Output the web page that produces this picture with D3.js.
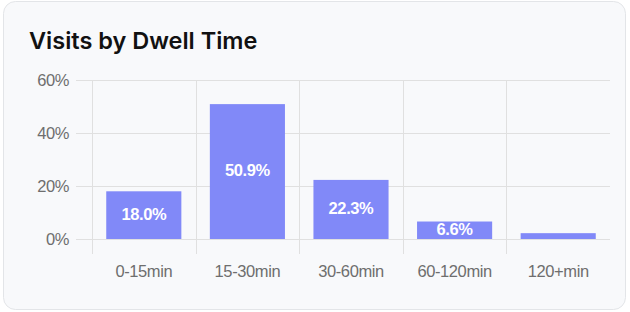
<!DOCTYPE html>
<html>
<head>
<meta charset="utf-8">
<script src="https://cdn.jsdelivr.net/npm/d3@7"></script>
<style>
  body { margin: 0; background: #fff; }
  svg { display: block; }
</style>
</head>
<body>
<svg id="chart" width="630" height="312"></svg>
<script>
// chart data
var categories = ['0-15min', '15-30min', '30-60min', '60-120min', '120+min'];
var values = [18.0, 50.9, 22.3, 6.6, 2.2];
var showLabel = [true, true, true, true, false];
var yTicks = [0, 20, 40, 60];

var svg = d3.select('#chart');

// card background
svg.append('rect')
    .attr('x', 3.5).attr('y', 1.5)
    .attr('width', 622).attr('height', 308)
    .attr('rx', 12)
    .attr('fill', '#f8f9fb')
    .attr('stroke', '#e3e5e8');

svg.append('text')
    .attr('x', 29).attr('y', 49)
    .attr('font-family', 'Inter, sans-serif')
    .attr('font-size', 23.5)
    .attr('font-weight', 600)
    .attr('fill', '#111')
    .text('Visits by Dwell Time');

var plot = { l: 92, r: 610, t: 80, b: 239 };

var x = d3.scaleBand()
    .domain(categories)
    .range([plot.l, plot.r])
    .paddingInner(0).paddingOuter(0);

var y = d3.scaleLinear()
    .domain([0, 60])
    .range([plot.b, plot.t]);

var grid = svg.append('g');
// horizontal grid lines
grid.selectAll('.hline')
    .data(yTicks)
    .enter().append('line')
    .attr('x1', 76).attr('x2', plot.r)
    .attr('y1', d => Math.round(y(d)) + 0.5)
    .attr('y2', d => Math.round(y(d)) + 0.5)
    .attr('stroke', '#e0e0e0')
    .attr('stroke-width', 1);

// vertical grid lines at band boundaries
grid.selectAll('.vline')
    .data(categories)
    .enter().append('line')
    .attr('x1', d => Math.round(x(d)) + 0.5)
    .attr('x2', d => Math.round(x(d)) + 0.5)
    .attr('y1', plot.t).attr('y2', 254)
    .attr('stroke', '#e0e0e0')
    .attr('stroke-width', 1);

// y tick labels
svg.selectAll('.ylab')
    .data(yTicks)
    .enter().append('text')
    .attr('x', 69)
    .attr('y', d => y(d))
    .attr('dy', '0.35em')
    .attr('text-anchor', 'end')
    .attr('font-family', 'Liberation Sans, Arial, sans-serif')
    .attr('font-size', 16.5)
    .attr('letter-spacing', -0.4)
    .attr('fill', '#6e6e6e')
    .text(d => d + '%');

// x tick labels
svg.selectAll('.xlab')
    .data(categories)
    .enter().append('text')
    .attr('x', d => x(d) + x.bandwidth() / 2)
    .attr('y', 271)
    .attr('dy', '0.35em')
    .attr('text-anchor', 'middle')
    .attr('font-family', 'Liberation Sans, Arial, sans-serif')
    .attr('font-size', 16.5)
    .attr('letter-spacing', -0.4)
    .attr('fill', '#6e6e6e')
    .text(d => d);

var barW = x.bandwidth() * 0.725;

svg.selectAll('.bar')
    .data(values)
    .enter().append('rect')
    .attr('x', (d, i) => x(categories[i]) + (x.bandwidth() - barW) / 2)
    .attr('y', d => y(d))
    .attr('width', barW)
    .attr('height', d => y(0) - y(d))
    .attr('fill', '#8189f8');

svg.selectAll('.blab')
    .data(values)
    .enter().append('text')
    .filter((d, i) => showLabel[i])
    .attr('x', (d, i) => x(categories[i]) + x.bandwidth() / 2)
    .attr('y', d => (y(d) + y(0)) / 2 - 1)
    .attr('dy', '0.35em')
    .attr('text-anchor', 'middle')
    .attr('font-family', 'Liberation Sans, Arial, sans-serif')
    .attr('font-size', 16.5)
    .attr('font-weight', 700)
    .attr('letter-spacing', -0.4)
    .attr('fill', '#fff')
    .text(d => d.toFixed(1) + '%');
</script>
</body>
</html>
